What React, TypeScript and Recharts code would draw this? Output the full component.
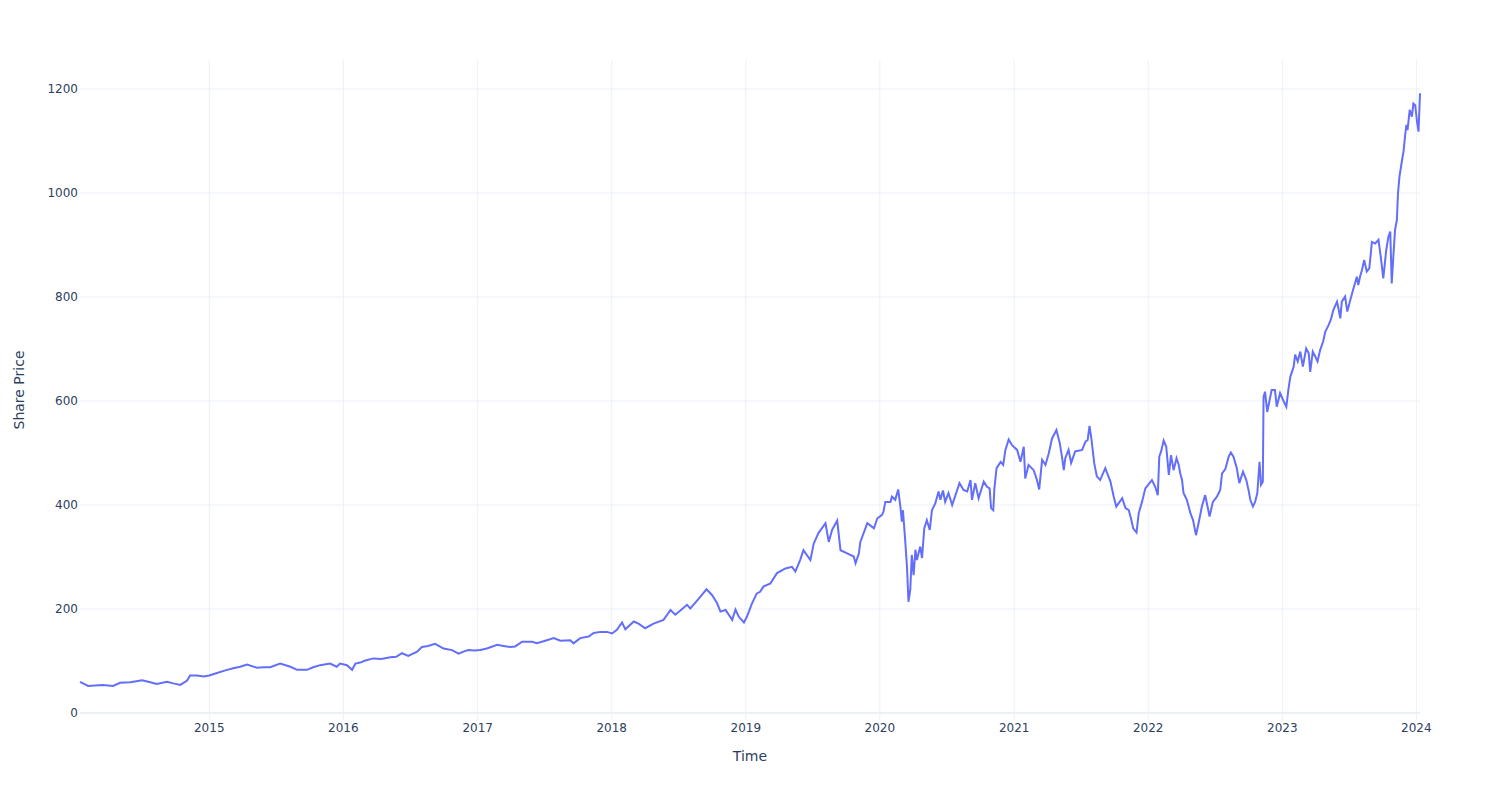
import React from 'react';
import { LineChart, Line, XAxis, YAxis, CartesianGrid, ReferenceLine } from 'recharts';

const dates = [
  '2014-01-14', '2014-01-25', '2014-02-05', '2014-02-24', '2014-03-17', '2014-04-14', '2014-05-03', '2014-05-31',
  '2014-07-02', '2014-07-19', '2014-08-11', '2014-09-08', '2014-09-25', '2014-10-14', '2014-11-01', '2014-11-10',
  '2014-11-29', '2014-12-16',
  '2015-01-01', '2015-01-22', '2015-02-14', '2015-03-07', '2015-03-26', '2015-04-14', '2015-05-11', '2015-05-28',
  '2015-06-16', '2015-07-13', '2015-08-10', '2015-08-28', '2015-09-24', '2015-10-11', '2015-10-30', '2015-11-26',
  '2015-12-14', '2015-12-23',
  '2016-01-11', '2016-01-25', '2016-02-03', '2016-02-16', '2016-03-01', '2016-03-23', '2016-04-13', '2016-05-08',
  '2016-05-24', '2016-06-09', '2016-06-26', '2016-07-20', '2016-08-02', '2016-08-19', '2016-09-07', '2016-09-30',
  '2016-10-23', '2016-11-10', '2016-11-23', '2016-12-07', '2016-12-23',
  '2017-01-08', '2017-01-26', '2017-02-23', '2017-03-12', '2017-03-31', '2017-04-13', '2017-05-02', '2017-05-29',
  '2017-06-11', '2017-07-04', '2017-07-27', '2017-08-14', '2017-09-10', '2017-09-19', '2017-10-07', '2017-10-30',
  '2017-11-13', '2017-12-01', '2017-12-19',
  '2018-01-02', '2018-01-15', '2018-01-29', '2018-02-07', '2018-03-02', '2018-03-15', '2018-04-02', '2018-04-25',
  '2018-05-22', '2018-06-10', '2018-06-23', '2018-07-07', '2018-07-25', '2018-08-03', '2018-08-26', '2018-09-16',
  '2018-10-01', '2018-10-15', '2018-10-24', '2018-11-07', '2018-11-25', '2018-12-04', '2018-12-13', '2018-12-27',
  '2019-01-04', '2019-01-18', '2019-01-31', '2019-02-09', '2019-02-18', '2019-03-09', '2019-03-27', '2019-04-19',
  '2019-05-07', '2019-05-16', '2019-05-29', '2019-06-07', '2019-06-26', '2019-07-05', '2019-07-18', '2019-08-06',
  '2019-08-15', '2019-08-24', '2019-09-07', '2019-09-16', '2019-10-04', '2019-10-22', '2019-10-27', '2019-11-05',
  '2019-11-09', '2019-11-28', '2019-12-16', '2019-12-25',
  '2020-01-07', '2020-01-11', '2020-01-16', '2020-01-30', '2020-02-03', '2020-02-12', '2020-02-20', '2020-02-26',
  '2020-03-01', '2020-03-04', '2020-03-10', '2020-03-15', '2020-03-19', '2020-03-24', '2020-03-28', '2020-04-02',
  '2020-04-07', '2020-04-11', '2020-04-20', '2020-04-25', '2020-05-01', '2020-05-08', '2020-05-16', '2020-05-22',
  '2020-05-31', '2020-06-09', '2020-06-14', '2020-06-21', '2020-06-27', '2020-07-06', '2020-07-16', '2020-07-25',
  '2020-08-05', '2020-08-16', '2020-08-26', '2020-09-04', '2020-09-08', '2020-09-17', '2020-09-26', '2020-10-10',
  '2020-10-19', '2020-10-26', '2020-10-30', '2020-11-05', '2020-11-08', '2020-11-14', '2020-11-25', '2020-12-02',
  '2020-12-08', '2020-12-17', '2020-12-26',
  '2021-01-09', '2021-01-18', '2021-01-27', '2021-01-31', '2021-02-09', '2021-02-23', '2021-03-04', '2021-03-10',
  '2021-03-18', '2021-03-27', '2021-04-05', '2021-04-14', '2021-04-26', '2021-05-05', '2021-05-11', '2021-05-16',
  '2021-05-20', '2021-05-29', '2021-06-05', '2021-06-16', '2021-07-05', '2021-07-14', '2021-07-20', '2021-07-25',
  '2021-07-30', '2021-08-07', '2021-08-14', '2021-08-23', '2021-09-06', '2021-09-20', '2021-09-29', '2021-10-06',
  '2021-10-22', '2021-10-31', '2021-11-09', '2021-11-15', '2021-11-21', '2021-11-30', '2021-12-06', '2021-12-15',
  '2021-12-24',
  '2022-01-11', '2022-01-20', '2022-01-27', '2022-01-31', '2022-02-05', '2022-02-12', '2022-02-19', '2022-02-26',
  '2022-03-04', '2022-03-11', '2022-03-19', '2022-03-25', '2022-03-29', '2022-04-03', '2022-04-07', '2022-04-16',
  '2022-04-26', '2022-05-03', '2022-05-11', '2022-05-18', '2022-05-27', '2022-06-05', '2022-06-17', '2022-06-26',
  '2022-07-07', '2022-07-16', '2022-07-21', '2022-07-30', '2022-08-08', '2022-08-14', '2022-08-21', '2022-08-30',
  '2022-09-06', '2022-09-16', '2022-09-25', '2022-10-01', '2022-10-06', '2022-10-13', '2022-10-19', '2022-10-25',
  '2022-10-31', '2022-11-04', '2022-11-09', '2022-11-11', '2022-11-15', '2022-11-21', '2022-12-03', '2022-12-12',
  '2022-12-17', '2022-12-26',
  '2023-01-05', '2023-01-12', '2023-01-18', '2023-01-23', '2023-02-01', '2023-02-05', '2023-02-12', '2023-02-19',
  '2023-02-26', '2023-03-07', '2023-03-14', '2023-03-18', '2023-03-25', '2023-04-01', '2023-04-07', '2023-04-14',
  '2023-04-22', '2023-04-28', '2023-05-07', '2023-05-13', '2023-05-20', '2023-05-30', '2023-06-03', '2023-06-08',
  '2023-06-12', '2023-06-21', '2023-06-27', '2023-07-05', '2023-07-14', '2023-07-23', '2023-07-27', '2023-08-01',
  '2023-08-06', '2023-08-12', '2023-08-19', '2023-08-26', '2023-09-02', '2023-09-11', '2023-09-20', '2023-09-26',
  '2023-10-03', '2023-10-11', '2023-10-17', '2023-10-22', '2023-10-26', '2023-10-31', '2023-11-04', '2023-11-09',
  '2023-11-12', '2023-11-16', '2023-11-23', '2023-11-27', '2023-12-02', '2023-12-05', '2023-12-08', '2023-12-14',
  '2023-12-20', '2023-12-24', '2023-12-29',
  '2024-01-03', '2024-01-07', '2024-01-11',
];

const prices = [
  60, 56, 52, 53, 54, 52, 58, 59,
  63, 60, 56, 60, 57, 54, 62, 72,
  72, 70,
  72, 77, 82, 86, 89, 93, 87, 88,
  88, 95, 89, 83, 83, 88, 92, 95,
  89, 95,
  92, 83, 95, 97, 101, 105, 104, 107,
  108, 115, 110, 118, 127, 129, 133, 124,
  121, 114, 118, 121, 120,
  121, 124, 131, 129, 127, 128, 137, 137,
  134, 139, 144, 139, 140, 134, 144, 147,
  154, 156, 156,
  153, 160, 174, 161, 176, 172, 163, 172,
  179, 198, 189, 197, 208, 201, 220, 238,
  227, 211, 195, 198, 179, 199, 185, 174,
  185, 211, 230, 233, 243, 249, 269, 278,
  281, 272, 294, 313, 294, 326, 346, 365,
  329, 352, 370, 313, 307, 301, 288, 307,
  329, 365, 355, 374,
  381, 387, 406, 406, 416, 410, 430, 397,
  368, 390, 333, 281, 214, 237, 304, 265,
  314, 294, 320, 298, 355, 371, 352, 390,
  403, 426, 410, 428, 406, 423, 400, 419,
  442, 429, 426, 448, 410, 442, 413, 445,
  435, 432, 394, 390, 432, 471, 483, 477,
  506, 526, 515,
  506, 483, 512, 451, 477, 467, 448, 430,
  487, 477, 499, 528, 544, 519, 493, 467,
  490, 506, 481, 503, 506, 522, 525, 552,
  528, 480, 455, 448, 471, 445, 416, 397,
  413, 394, 390, 374, 355, 347, 384, 406,
  432,
  448, 435, 419, 493, 503, 524, 512, 458,
  496, 467, 490, 477, 461, 448, 423, 410,
  384, 371, 342, 365, 397, 419, 378, 406,
  416, 429, 461, 469, 493, 501, 493, 471,
  442, 464, 448, 429, 410, 397, 406, 423,
  483, 439, 445, 608, 618, 579, 621, 621,
  589, 615,
  599, 589, 624, 647, 666, 689, 676, 695,
  666, 701, 692, 656, 695, 685, 676, 698,
  714, 733, 746, 756, 775, 791, 778, 759,
  791, 801, 772, 794, 817, 839, 823, 840,
  852, 871, 849, 855, 906, 903, 910, 878,
  836, 890, 916, 926, 826, 884, 929, 948,
  999, 1031, 1063, 1079, 1114, 1131, 1121, 1160,
  1147, 1172, 1169,
  1137, 1118, 1192,
];

const yearTicks = ['2015', '2016', '2017', '2018', '2019', '2020', '2021', '2022', '2023', '2024'];
const priceTicks = [0, 200, 400, 600, 800, 1000, 1200];

const toTime = (d: string) => Date.parse(d + 'T00:00:00Z');

const data = dates.map((d, i) => ({ t: toTime(d), price: prices[i] }));
const xTicks = yearTicks.map(y => toTime(`${y}-01-01`));
const xDomain = [data[0].t, data[data.length - 1].t];
const yDomain = [-13.46, 1255.8];

const font = '"DejaVu Sans", Verdana, sans-serif';
const ink = '#2a3f5f';
const grid = '#EBF0F8';

// grid only at the tick values, no lines on the plot edges
const hLines = ({ offset }: any) =>
  priceTicks.map(v => offset.top + offset.height * (1 - (v - yDomain[0]) / (yDomain[1] - yDomain[0])));
const vLines = ({ offset }: any) =>
  xTicks.map(t => offset.left + offset.width * ((t - xDomain[0]) / (xDomain[1] - xDomain[0])));

export default function App() {
  return (
    <div style={{ position: 'absolute', left: 0, top: 0, width: 1500, height: 800, background: '#fff', fontFamily: font }}>
      <LineChart width={1500} height={800} data={data} margin={{ top: 60, right: 80, bottom: 0, left: 0 }}>
        <CartesianGrid
          stroke={grid}
          strokeWidth={1}
          horizontalCoordinatesGenerator={hLines}
          verticalCoordinatesGenerator={vLines}
        />
        <XAxis
          dataKey="t"
          type="number"
          domain={xDomain}
          ticks={xTicks}
          tickFormatter={(v: number) => String(new Date(v).getUTCFullYear())}
          height={80}
          axisLine={false}
          tickLine={false}
          tickSize={0}
          tickMargin={3}
          tick={{ fill: ink, fontSize: 12, fontFamily: font }}
        />
        <YAxis
          type="number"
          domain={yDomain}
          ticks={priceTicks}
          width={80}
          axisLine={false}
          tickLine={false}
          tickSize={0}
          tickMargin={2}
          tick={{ fill: ink, fontSize: 12, fontFamily: font }}
        />
        <ReferenceLine y={0} stroke={grid} strokeWidth={2} />
        <Line
          type="linear"
          dataKey="price"
          stroke="#636efa"
          strokeWidth={2}
          dot={false}
          isAnimationActive={false}
        />
      </LineChart>
      <div style={{ position: 'absolute', left: 0, top: 748, width: 1500, textAlign: 'center', fontSize: 14, lineHeight: '16px', color: ink }}>
        Time
      </div>
      <div style={{ position: 'absolute', left: 19, top: 390, transform: 'translate(-50%, -50%) rotate(-90deg)', whiteSpace: 'nowrap', fontSize: 14, lineHeight: '16px', color: ink }}>
        Share Price
      </div>
    </div>
  );
}
